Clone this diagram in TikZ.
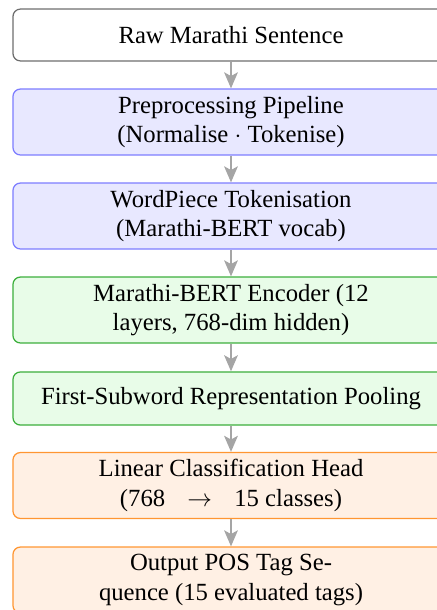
\documentclass[tikz,border=0pt]{standalone}
\usepackage{fontspec}
\setmainfont{Liberation Serif}
\usetikzlibrary{arrows.meta}

\definecolor{rawline}{RGB}{110,110,110}
\definecolor{prepline}{RGB}{125,125,255}
\definecolor{prepfill}{RGB}{232,232,255}
\definecolor{encline}{RGB}{60,175,60}
\definecolor{encfill}{RGB}{232,252,232}
\definecolor{headline}{RGB}{255,150,50}
\definecolor{headfill}{RGB}{255,240,228}
\definecolor{arrcol}{RGB}{165,165,165}

\tikzset{
  stage/.style={draw, rounded corners=3pt, line width=0.5pt, align=center,
    minimum width=176.6pt, inner sep=2pt, font=\normalsize},
  rawbox/.style={stage, draw=rawline, fill=white, minimum height=21pt},
  prepbox/.style={stage, draw=prepline, fill=prepfill, minimum height=26.7pt},
  encbox/.style={stage, draw=encline, fill=encfill},
  headbox/.style={stage, draw=headline, fill=headfill, minimum height=26.7pt},
  flow/.style={draw=arrcol, line width=1pt, -{Stealth[length=6.5pt,width=5.5pt,inset=1.5pt]}}
}

\begin{document}
\begin{tikzpicture}[x=0.405pt,y=-0.405pt]
\useasboundingbox (0,0) rectangle (437,610);
\clip (0,0) rectangle (437,610);
\node [rawbox] (raw) at (231,35) {Raw Marathi Sentence};
\node [prepbox] (prep) at (231,122) {Preprocessing Pipeline\\(Normalise $\cdot$ Tokenise)};
\node [prepbox] (wpiece) at (231,216) {WordPiece Tokenisation\\(Marathi-BERT vocab)};
\node [encbox, minimum height=26.7pt] (enc) at (231,310) {Marathi-BERT Encoder (12\\layers, 768-dim hidden)};
\node [encbox, minimum height=21.5pt] (pool) at (231,398.5) {First-Subword Representation Pooling};
\node [headbox] (head) at (231,485.5) {Linear Classification Head\\(768\hspace{9pt}$\rightarrow$\hspace{9pt}15 classes)};
\node [headbox] (out) at (231,580) {Output POS Tag Se-\\quence (15 evaluated tags)};
\draw [flow] (raw) -- (prep);
\draw [flow] (prep) -- (wpiece);
\draw [flow] (wpiece) -- (enc);
\draw [flow] (enc) -- (pool);
\draw [flow] (pool) -- (head);
\draw [flow] (head) -- (out);
\end{tikzpicture}
\end{document}
